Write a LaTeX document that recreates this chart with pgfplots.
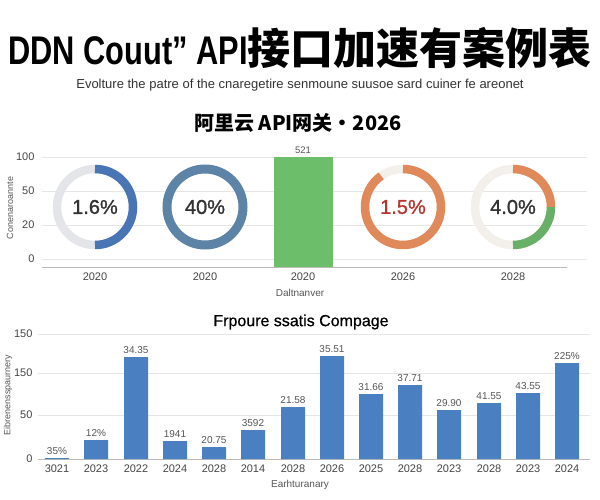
\documentclass[border=0pt]{standalone}
\usepackage{pgfplots}
\pgfplotsset{compat=1.18}
\usepackage{fontspec}
\usepackage{graphicx}
\setmainfont{Liberation Sans}
\newfontfamily\cjk{Noto Sans CJK SC}
\newfontfamily\medfont{Liberation Sans}[FakeBold=1.2]
\newfontfamily\semfont{Liberation Sans}[FakeBold=0.6]
\definecolor{barblue}{HTML}{4A80C2}
\definecolor{dblue}{HTML}{4A75B4}
\definecolor{dgray}{HTML}{E3E5E9}
\definecolor{dsteel}{HTML}{5D83A6}
\definecolor{gbar}{HTML}{6DBE6A}
\definecolor{dorange}{HTML}{E08A5C}
\definecolor{dbeige}{HTML}{F3EFEA}
\definecolor{dgreen}{HTML}{68B067}
\definecolor{dred}{HTML}{B5362E}
\definecolor{txt}{HTML}{333333}
\definecolor{tick}{HTML}{444444}
\definecolor{lab}{HTML}{555555}
\definecolor{gridc}{HTML}{E6E6E6}
\definecolor{axc}{HTML}{BBBBBB}
\begin{document}
\begin{tikzpicture}[x=1pt,y=1pt]
\useasboundingbox (0,0) rectangle (600,-500);
% titles
\node[anchor=center, text=black] at (300,-48) {\fontsize{40}{40}\selectfont\bfseries\scalebox{0.77}[1]{DDN Couut” API}{\cjk\fontsize{43}{43}\selectfont\bfseries 接口加速有案例表}};
\node[anchor=center, text=txt] at (300,-85) {\fontsize{13}{13}\selectfont Evolture the patre of the cnaregetire senmoune suusoe sard cuiner fe areonet};
\node[anchor=center, text=black] at (298,-123) {\cjk\fontsize{20}{20}\selectfont\bfseries 阿里云 API网关・2026};
\node[anchor=center, text=black] at (301,-322) {\semfont\fontsize{16}{16}\selectfont Frpoure ssatis Compage};
% axis labels
\node[text=lab, rotate=90] at (10,-208) {\fontsize{9}{9}\selectfont Conenaroannte};
\node[text=lab] at (300,-293) {\fontsize{10}{10}\selectfont Daltnanver};
\node[text=lab, rotate=90] at (8,-395) {\fontsize{9}{9}\selectfont Eibrenensspaurnery};
\node[text=lab] at (300,-485) {\fontsize{10}{10}\selectfont Earhturanary};

% top panel
\begin{axis}[at={(42pt,-267pt)}, anchor=south west, scale only axis,
  width=545pt, height=117pt, xmin=42, xmax=587, ymin=0, ymax=117,
  clip=false, axis line style={draw=none},
  ytick={8,42,76,110}, yticklabels={0,20,50,100},
  xtick={95,205,303,403,513}, xticklabels={2020,2020,2020,2026,2028},
  major tick length=0pt, ymajorgrids, grid style={gridc},
  ticklabel style={font=\fontsize{11}{11}\selectfont, text=tick},
  yticklabel style={xshift=-4pt},
  xticklabel style={yshift=-2pt}]
\draw[axc, line width=1pt] (axis cs:42,0) -- (axis cs:567,0);
\addplot[ybar, bar width=59, fill=gbar, draw=none, nodes near coords,
  point meta=explicit symbolic,
  every node near coord/.style={font=\fontsize{9.5}{9.5}\selectfont, text=lab}]
  coordinates {(303,110) [521]};
% donut 1
\draw[dgray, line width=8.5pt] (axis cs:95,60) circle[radius=38pt];
\draw[dblue, line width=8.5pt] (axis cs:95,60) ++(90:38pt) arc[start angle=90, end angle=-90, radius=38pt];
\node[text=txt] at (axis cs:95,60) {\medfont\fontsize{20}{20}\selectfont 1.6\%};
% donut 2
\draw[dsteel, line width=9pt] (axis cs:205,60) circle[radius=38pt];
\node[text=txt] at (axis cs:205,60) {\medfont\fontsize{20}{20}\selectfont 40\%};
% donut 3
\draw[dbeige, line width=8.5pt] (axis cs:403,60) circle[radius=38pt];
\draw[dorange, line width=8.5pt] (axis cs:403,60) ++(90:38pt) arc[start angle=90, end angle=-235, radius=38pt];
\node[text=dred] at (axis cs:403,60) {\medfont\fontsize{20}{20}\selectfont 1.5\%};
% donut 4
\draw[dbeige, line width=8.5pt] (axis cs:513,60) circle[radius=38pt];
\draw[dorange, line width=8.5pt] (axis cs:513,60) ++(90:38pt) arc[start angle=90, end angle=0, radius=38pt];
\draw[dgreen, line width=8.5pt] (axis cs:513,60) ++(0:38pt) arc[start angle=0, end angle=-90, radius=38pt];
\node[text=txt] at (axis cs:513,60) {\medfont\fontsize{20}{20}\selectfont 4.0\%};
\end{axis}

% bottom panel
\begin{axis}[at={(38pt,-459pt)}, anchor=south west, scale only axis,
  width=552pt, height=126.67pt, xmin=38, xmax=590, ymin=0, ymax=152,
  clip=false, axis y line*=left, axis x line*=bottom,
  y axis line style={draw=none}, x axis line style={axc, line width=1pt},
  ytick={0,52.8,103.2,150}, yticklabels={0,50,150,150},
  xtick={57,96,136,175,214,253,293,332,371,410,449,489,528,567},
  xticklabels={3021,2023,2022,2024,2028,2014,2028,2026,2025,2028,2023,2028,2023,2024},
  major tick length=0pt, ymajorgrids, grid style={gridc},
  ticklabel style={font=\fontsize{11}{11}\selectfont, text=tick},
  yticklabel style={xshift=-2pt},
  xticklabel style={yshift=-2pt}]
\addplot[ybar, bar width=24, fill=barblue, draw=none, nodes near coords,
  point meta=explicit symbolic,
  every node near coord/.style={font=\fontsize{10}{10}\selectfont, text=lab}]
  coordinates {
  (57,1.2) [35\%]
  (96,22.8) [12\%]
  (136,122.4) [34.35]
  (175,21.6) [1941]
  (214,14.4) [20.75]
  (253,34.8) [3592]
  (293,62.4) [21.58]
  (332,123.6) [35.51]
  (371,78) [31.66]
  (410,88.8) [37.71]
  (449,58.8) [29.90]
  (489,67.2) [41.55]
  (528,79.2) [43.55]
  (567,115.2) [225\%]
  };
\end{axis}
\end{tikzpicture}
\end{document}
